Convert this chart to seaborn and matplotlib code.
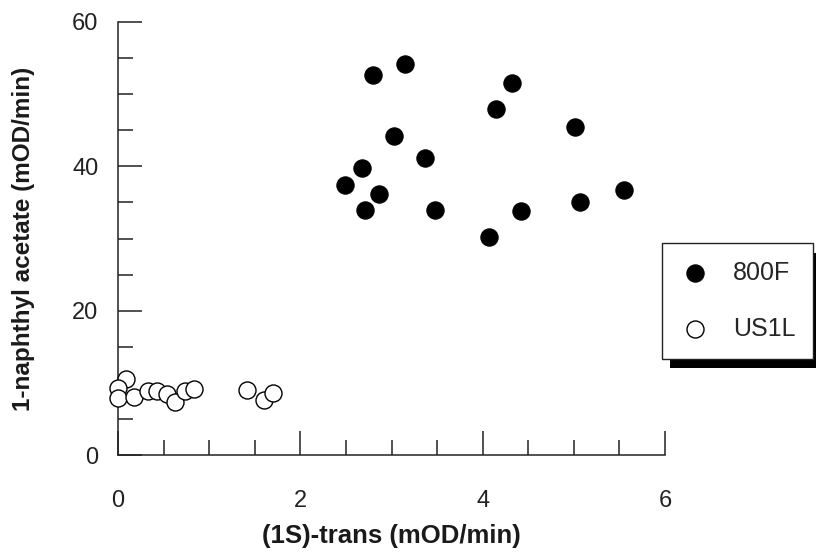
import matplotlib
matplotlib.use("Agg")
import matplotlib.pyplot as plt
import matplotlib.patheffects as pe
from matplotlib.ticker import MultipleLocator
import pandas as pd
import seaborn as sns

# (1S)-trans vs 1-naphthyl acetate activities, mOD/min
strain_800f_x = [2.80, 3.15, 4.32, 4.15, 5.01, 3.03, 3.37, 2.68,
                 2.49, 2.86, 2.71, 3.48, 5.55, 5.07, 4.42, 4.07]
strain_800f_y = [52.6, 54.2, 51.6, 48.0, 45.4, 44.2, 41.2, 39.7,
                 37.4, 36.2, 33.9, 33.9, 36.7, 35.0, 33.8, 30.2]

strain_us1l_x = [0.09, 0.00, 0.00, 0.18, 0.33, 0.43, 0.54, 0.62,
                 0.73, 0.83, 1.42, 1.60, 1.70]
strain_us1l_y = [10.6, 9.3, 7.9, 8.1, 8.9, 8.8, 8.5, 7.4,
                 8.9, 9.1, 9.0, 7.6, 8.6]

x_ticks = [0, 2, 4, 6]
y_ticks = [0, 20, 40, 60]

df_800f = pd.DataFrame({"trans": strain_800f_x, "naphthyl": strain_800f_y})
df_us1l = pd.DataFrame({"trans": strain_us1l_x, "naphthyl": strain_us1l_y})

sns.set_theme(style="ticks")
plt.rcParams["font.family"] = ["Liberation Sans", "DejaVu Sans"]

fig = plt.figure(figsize=(8.16, 5.52), dpi=100)
ax = fig.add_axes([118 / 816, 1 - 455 / 552, (665 - 118) / 816, (455 - 22) / 552])

sns.scatterplot(data=df_800f, x="trans", y="naphthyl", ax=ax, s=155,
                color="black", edgecolor="black", linewidth=0.8,
                label="800F", clip_on=False, zorder=5)
sns.scatterplot(data=df_us1l, x="trans", y="naphthyl", ax=ax, s=150,
                color="white", edgecolor="black", linewidth=1.0,
                label="US1L", clip_on=False, zorder=5)

ax.set_xlim(0, 6)
ax.set_ylim(0, 60)
ax.set_xticks(x_ticks)
ax.set_yticks(y_ticks)
ax.xaxis.set_minor_locator(MultipleLocator(0.5))
ax.yaxis.set_minor_locator(MultipleLocator(5))

for side in ("top", "right"):
    ax.spines[side].set_visible(False)
for side in ("left", "bottom"):
    ax.spines[side].set_color("#222222")
    ax.spines[side].set_linewidth(1.1)

ax.tick_params(which="major", direction="in", length=17, width=1.1,
               color="#222222", labelsize=17, labelcolor="#222222")
ax.tick_params(which="minor", direction="in", length=11, width=1.1,
               color="#222222")
ax.tick_params(axis="x", which="major", pad=25)
ax.tick_params(axis="y", which="major", pad=14)

ax.set_xlabel("(1S)-trans (mOD/min)", fontsize=18.5, fontweight="bold",
              color="#1a1a1a", labelpad=9)
ax.set_ylabel("1-naphthyl acetate (mOD/min)", fontsize=17.5,
              fontweight="bold", color="#1a1a1a", labelpad=27)

leg = ax.legend(loc="upper left", bbox_to_anchor=(662 / 816, 1 - 243 / 552),
                bbox_transform=fig.transFigure, borderaxespad=0,
                fontsize=18, frameon=True, fancybox=False,
                handletextpad=0.9, borderpad=0.7, labelspacing=1.3,
                handlelength=1.25, markerscale=1.0)
frame = leg.get_frame()
frame.set_edgecolor("#222222")
frame.set_linewidth(1.0)
frame.set_facecolor("white")
frame.set_alpha(1)
frame.set_path_effects([
    pe.SimplePatchShadow(offset=(6, -7), shadow_rgbFace="black", alpha=1),
    pe.Normal(),
])

fig.savefig("out.png", dpi=100, facecolor="white")
